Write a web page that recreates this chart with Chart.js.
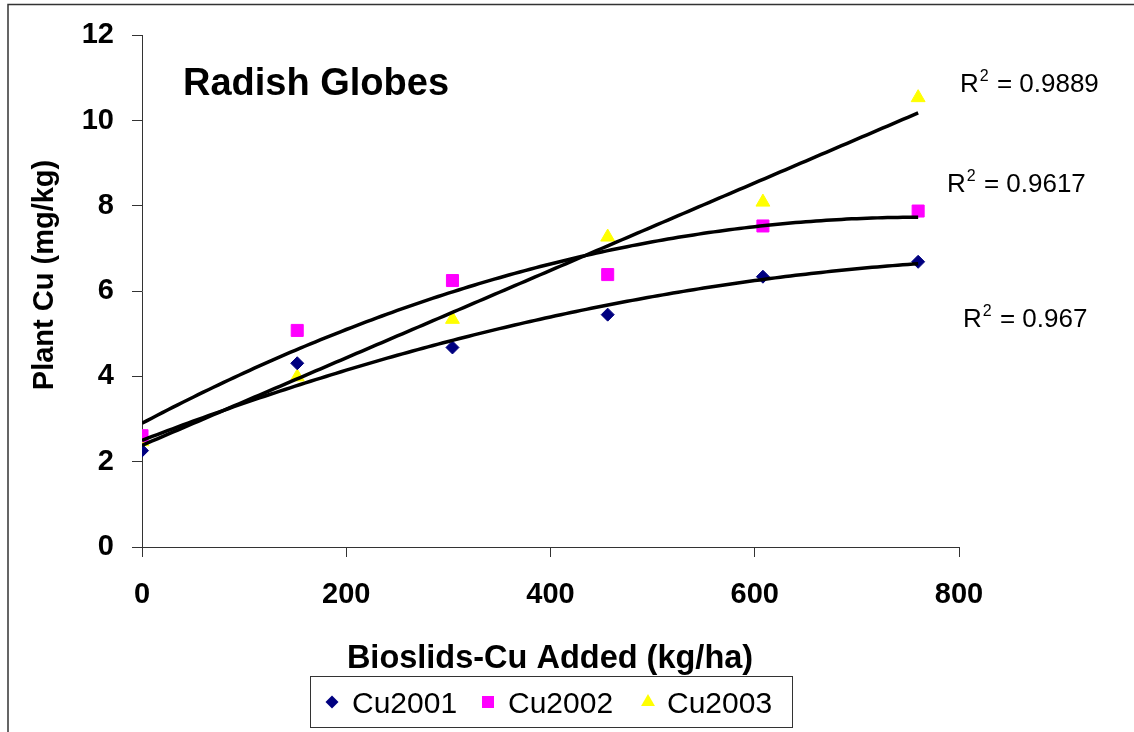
<!DOCTYPE html>
<html>
<head>
<meta charset="utf-8">
<script src="https://cdn.jsdelivr.net/npm/chart.js@4.4.0/dist/chart.umd.min.js"></script>
<style>
  html, body { margin: 0; padding: 0; background: #fff; }
  #wrap { width: 1134px; height: 732px; }
</style>
</head>
<body>
<div id="wrap"><canvas id="chart" width="1134" height="732"></canvas></div>
<script>
const FONT = '"Liberation Sans", Arial, Helvetica, sans-serif';

// Biosolids Cu added (kg/ha) and plant Cu (mg/kg) per year
const addedCu = [0, 152, 304, 456, 608, 760];
const cu2001 = [2.26, 4.31, 4.68, 5.45, 6.34, 6.69];
const cu2002 = [2.61, 5.08, 6.25, 6.39, 7.53, 7.88];
const cu2003 = [2.47, 3.99, 5.34, 7.27, 8.09, 10.54];

const seriesNames = ['Cu2001', 'Cu2002', 'Cu2003'];
const seriesValues = [cu2001, cu2002, cu2003];
const seriesColors = ['#000080', '#FF00FF', '#FFFF00'];
const seriesShapes = ['rectRot', 'rect', 'triangle'];
const seriesRadius = [6.5, 8.5, 8];
// polynomial order of each trendline and its R² label
const trendDegree = [2, 2, 1];
const trendR2 = ['0.967', '0.9617', '0.9889'];

const xTickStep = 200, xMax = 800;
const yTickStep = 2, yMax = 12;

// least squares polynomial fit, returns coefficients c0..cn
function polyfit(xs, ys, deg) {
  const n = deg + 1;
  const A = [];
  for (let i = 0; i < n; i++) {
    A.push(new Array(n + 1).fill(0));
    for (let j = 0; j < n; j++) {
      A[i][j] = xs.reduce((s, x) => s + Math.pow(x, i + j), 0);
    }
    A[i][n] = xs.reduce((s, x, k) => s + Math.pow(x, i) * ys[k], 0);
  }
  for (let c = 0; c < n; c++) {
    let p = c;
    for (let r = c + 1; r < n; r++) if (Math.abs(A[r][c]) > Math.abs(A[p][c])) p = r;
    [A[c], A[p]] = [A[p], A[c]];
    for (let r = 0; r < n; r++) {
      if (r === c) continue;
      const f = A[r][c] / A[c][c];
      for (let k = c; k <= n; k++) A[r][k] -= f * A[c][k];
    }
  }
  return A.map((row, i) => row[n] / row[i]);
}

function trendPoints(values, deg) {
  const coef = polyfit(addedCu, values, deg);
  const pts = [];
  const last = addedCu[addedCu.length - 1];
  for (let x = addedCu[0]; x <= last; x += 5) {
    pts.push({ x: x, y: coef.reduce((s, c, i) => s + c * Math.pow(x, i), 0) });
  }
  return pts;
}

const datasets = [];
seriesNames.forEach((name, i) => {
  datasets.push({
    label: name,
    data: addedCu.map((x, k) => ({ x: x, y: seriesValues[i][k] })),
    pointStyle: seriesShapes[i],
    pointRadius: seriesRadius[i],
    pointBackgroundColor: seriesColors[i],
    pointBorderColor: seriesColors[i],
    pointBorderWidth: 1,
    showLine: false,
    order: 2
  });
});
seriesNames.forEach((name, i) => {
  datasets.push({
    label: name + ' trend',
    data: trendPoints(seriesValues[i], trendDegree[i]),
    showLine: true,
    borderColor: '#000',
    borderWidth: 3.5,
    pointRadius: 0,
    tension: 0,
    order: 1
  });
});

function drawMarker(ctx, shape, x, y, r, color) {
  ctx.save();
  ctx.fillStyle = color;
  ctx.beginPath();
  if (shape === 'rectRot') {
    ctx.moveTo(x, y - r); ctx.lineTo(x + r, y); ctx.lineTo(x, y + r); ctx.lineTo(x - r, y);
  } else if (shape === 'rect') {
    const s = r * Math.SQRT1_2;
    ctx.rect(x - s, y - s, 2 * s, 2 * s);
  } else {
    ctx.moveTo(x, y - r);
    ctx.lineTo(x + r * 0.866, y + r * 0.5);
    ctx.lineTo(x - r * 0.866, y + r * 0.5);
  }
  ctx.closePath();
  ctx.fill();
  ctx.restore();
}

function drawR2(ctx, value, x, y) {
  ctx.font = '26px ' + FONT;
  ctx.fillText('R', x, y);
  const rw = ctx.measureText('R').width;
  ctx.font = '16px ' + FONT;
  ctx.fillText('2', x + rw + 1, y - 11);
  const sw = ctx.measureText('2').width;
  ctx.font = '26px ' + FONT;
  ctx.fillText(' = ' + value, x + rw + sw + 2, y);
}

const decorations = {
  id: 'decorations',
  afterDraw(chart) {
    const ctx = chart.ctx;
    ctx.save();

    // outer frame (top and left edges)
    ctx.strokeStyle = '#333';
    ctx.lineWidth = 1.5;
    ctx.beginPath();
    ctx.moveTo(8, 732); ctx.lineTo(8, 4.5); ctx.lineTo(1134, 4.5);
    ctx.stroke();

    ctx.fillStyle = '#000';
    ctx.textBaseline = 'alphabetic';

    // chart title
    ctx.textAlign = 'left';
    ctx.font = 'bold 38px ' + FONT;
    ctx.fillText('Radish Globes', 183, 95);

    // axis titles
    ctx.textAlign = 'center';
    ctx.font = 'bold 32.5px ' + FONT;
    ctx.fillText('Bioslids-Cu Added (kg/ha)', 550, 668);
    ctx.save();
    ctx.translate(53, 275);
    ctx.rotate(-Math.PI / 2);
    ctx.font = 'bold 29px ' + FONT;
    ctx.fillText('Plant Cu (mg/kg)', 0, 0);
    ctx.restore();

    // R² labels next to the trendlines
    ctx.textAlign = 'left';
    drawR2(ctx, trendR2[2], 960, 92);
    drawR2(ctx, trendR2[1], 947, 192);
    drawR2(ctx, trendR2[0], 963, 327);

    // legend box
    ctx.strokeStyle = '#333';
    ctx.lineWidth = 1;
    ctx.strokeRect(310.5, 676.5, 482, 51);
    const markerX = [332, 488, 648];
    const textX = [352, 508, 667];
    ctx.font = '30px ' + FONT;
    seriesNames.forEach((name, i) => {
      drawMarker(ctx, seriesShapes[i], markerX[i], 702, seriesRadius[i], seriesColors[i]);
      ctx.fillStyle = '#000';
      ctx.fillText(name, textX[i], 713);
    });

    ctx.restore();
  }
};

const tickFont = { family: FONT, size: 29, weight: 'bold' };

new Chart(document.getElementById('chart'), {
  type: 'scatter',
  data: { datasets: datasets },
  options: {
    responsive: false,
    animation: false,
    layout: { padding: { top: 32, right: 175, left: 0, bottom: 0 } },
    plugins: {
      legend: { display: false },
      tooltip: { enabled: false }
    },
    scales: {
      x: {
        type: 'linear',
        min: 0,
        max: xMax,
        ticks: { stepSize: xTickStep, padding: 21, color: '#000', font: tickFont, maxRotation: 0 },
        grid: { drawOnChartArea: false, drawTicks: true, tickLength: 10, color: '#333' },
        border: { display: true, color: '#333', width: 1 },
        afterFit(scale) { scale.height = 185; }
      },
      y: {
        type: 'linear',
        min: 0,
        max: yMax,
        ticks: { stepSize: yTickStep, padding: 18, color: '#000', font: tickFont },
        grid: { drawOnChartArea: false, drawTicks: true, tickLength: 10, color: '#333' },
        border: { display: true, color: '#333', width: 1 },
        afterFit(scale) { scale.width = 142; }
      }
    }
  },
  plugins: [decorations]
});
</script>
</body>
</html>
